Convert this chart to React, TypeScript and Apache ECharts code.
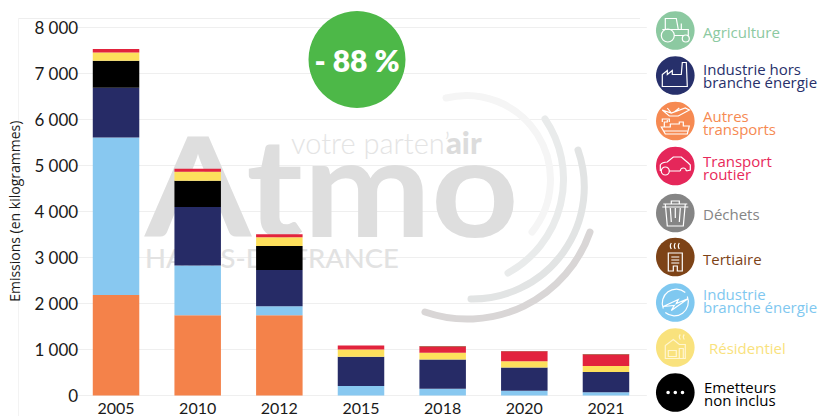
import React, { useEffect, useRef } from "react";
import * as echarts from "echarts";

const years = ["2005", "2010", "2012", "2015", "2018", "2020", "2021"];
const autresTransports = [2180, 1740, 1740, 0, 0, 0, 0];
const industrieEnergie = [3420, 1080, 200, 205, 147, 104, 70];
const industrieHors = [1080, 1270, 785, 635, 636, 505, 440];
const emetteurs = [590, 570, 520, 0, 0, 0, 0];
const residentiel = [175, 195, 190, 160, 143, 136, 130];
const transportRoutier = [75, 65, 65, 87, 140, 215, 252];
const tertiaire = [0, 0, 0, 0, 8, 8, 8];

const barNames = ["Autres transports", "Industrie branche énergie", "Industrie hors branche énergie", "Emetteurs non inclus", "Résidentiel", "Transport routier", "Tertiaire"];
const barValues = [autresTransports, industrieEnergie, industrieHors, emetteurs, residentiel, transportRoutier, tertiaire];
const barColors = ["#f4824a", "#88c8f0", "#262b66", "#000000", "#fde05c", "#e2233d", "#7d4317"];

const legendLabels = ["Agriculture", "Industrie hors\nbranche énergie", "Autres\ntransports", "Transport\nroutier", "Déchets", "Tertiaire", "Industrie\nbranche énergie", "Résidentiel", "Emetteurs\nnon inclus"];
const legendColors = ["#8cc9a1", "#27306b", "#f68a52", "#e5275a", "#858585", "#7d4317", "#7fc8f0", "#f9e27d", "#000000"];
const legendTextColors = ["#8cc9a1", "#27306b", "#f68a52", "#e8295a", "#858585", "#7d4317", "#7fc8f0", "#f9e27d", "#000000"];
const iconShapes = ["iTractor", "iFactory", "iTransport", "iCar", "iBin", "iBuilding", "iBolt", "iHouse", "iDots"];

const iconPaths: Record<string, string> = {
  iTractor: "M-10 -1 L-10 -12 L1 -12 L3 -1 M-13 -1 L13 -1 L13 6 M6 -1 L6 -7 M-9 -1 M-1 5 L8 5 M-1 5 A6.5 6.5 0 1 0 -14 5 A6.5 6.5 0 1 0 -1 5 M14 8 A3.5 3.5 0 1 0 7 8 A3.5 3.5 0 1 0 14 8",
  iFactory: "M-13 11 L-13 -1 L-8 -5 L-8 -1 L-3 -5 L-3 -1 L6 -1 L7 -13 L11 -13 L12 11 Z",
  iTransport: "M-13 -11 L-4 -8 L10 -13 L14 -11 L3 -5 L-6 -5 Z M-8 -13 L-4 -8 M-1 -9 L4 -13 M-11 6 L-11 1 L-8 1 L-8 -1 M-13 1 L-13 -2 L-6 -2 L-6 1 M-8 6 L-5 6 L-5 3 L4 3 L4 1 L8 1 L8 5 L14 5 L12 13 L-10 13 L-14 6 Z M-12 10 L12 10",
  iCar: "M-15 5 L-15 -1 Q-13 -4 -8 -4 L-2 -9 L6 -9 L13 -3 L15 -1 L15 4 L11 5 M5 5 L-6 5 M-6 5 A4 4 0 1 1 -14 5 A4 4 0 1 1 -6 5 M11 5 A3 3 0 1 0 5 5",
  iBin: "M-12 -9 L12 -9 M-4 -9 L-4 -12 L4 -12 L4 -9 M-10 -9 L-8 13 L8 13 L10 -9 M-5 -5 L-4 9 M0 -5 L0 5 M5 -5 L4 9 M-13 -6 L13 -6",
  iBuilding: "M-7 -4 L7 -4 L7 14 L2 14 L2 9 L-2 9 L-2 14 L-7 14 Z M-4 0 L4 0 M-4 3 L4 3 M-4 6 L4 6 M-4 -8 Q-6 -11 -4 -14 M0 -8 Q-2 -11 0 -14 M4 -8 Q2 -11 4 -14",
  iBolt: "M-12 6 A14 14 0 0 1 10 -10 M12 -6 A14 14 0 0 1 -10 10 M-12 4 L3 -3 L1 1 L13 -4 L-4 8 L-1 3 Z",
  iHouse: "M-10 11 L-10 -2 L-2 -8 L4 -3 L10 -3 L10 11 Z M-7 3 L1 3 L1 9 L-7 9 Z M4 11 L4 1 L8 1 L8 11 M5 -8 Q3 -11 5 -13 M9 -8 Q7 -11 9 -13",
  iDots: "M-9 0 A1.8 1.8 0 1 0 -5.4 0 A1.8 1.8 0 1 0 -9 0 M-1.8 0 A1.8 1.8 0 1 0 1.8 0 A1.8 1.8 0 1 0 -1.8 0 M5.4 0 A1.8 1.8 0 1 0 9 0 A1.8 1.8 0 1 0 5.4 0",
};
Object.keys(iconPaths).forEach((k) => {
  echarts.graphic.registerShape(k, echarts.graphic.extendPath(iconPaths[k], {}) as any);
});
const arcPaths: Record<string, string> = {
  arcA: "M446 98 A84 84 0 0 1 532 232",
  arcB: "M545 119 A107 107 0 0 1 508 273",
  arcC: "M578 150 A112 112 0 0 1 471 299",
  arcD: "M590 232 A130 130 0 0 1 425 312",
};
Object.keys(arcPaths).forEach((k) => {
  echarts.graphic.registerShape(k, echarts.graphic.extendPath(arcPaths[k], {}) as any);
});

const iconY = [30.5, 75.5, 121, 166, 213, 257, 302.5, 347.5, 392.5];
const labelY = [31.5, 75.5, 122.5, 167.5, 214, 258.5, 300.5, 348, 393.5];
const labelX = [703, 703, 703, 703, 703, 703, 703, 709, 704];

export default function App() {
  const ref = useRef<HTMLDivElement>(null);
  useEffect(() => {
    const chart = echarts.init(ref.current!, undefined, { renderer: "svg" });
    const wm = "#dedede";
    const graphic: any[] = [
      { type: "line", z: 0, shape: { x1: 18, y1: 18.5, x2: 640, y2: 18.5 }, style: { stroke: "#eeeeee", lineWidth: 1 } },
      { type: "line", z: 0, shape: { x1: 18.5, y1: 18, x2: 18.5, y2: 416 }, style: { stroke: "#f3f3f3", lineWidth: 1 } },
      { type: "text", z: 1, x: 145, y: 184, scaleX: 1.115, style: { text: "Atmo", fill: wm, font: "700 137px Lato", textVerticalAlign: "middle" } },
      { type: "text", z: 1, x: 291, y: 142, style: { text: "votre parten’", fill: "#e4e4e4", font: "300 29px Lato", textVerticalAlign: "middle" } },
      { type: "text", z: 1, x: 446, y: 142, style: { text: "air", fill: "#dcdcdc", font: "900 31px Lato", textVerticalAlign: "middle" } },
      { type: "text", z: 1, x: 145, y: 258, scaleX: 1.015, style: { text: "HAUTS-DE-FRANCE", fill: "#e2e2e2", font: "500 27px Lato", textVerticalAlign: "middle" } },
      { type: "arcA", z: 1, style: { fill: "none", stroke: "#f5f5f5", lineWidth: 7, lineCap: "round" } },
      { type: "arcB", z: 1, style: { fill: "none", stroke: "#e9ebeb", lineWidth: 7, lineCap: "round" } },
      { type: "arcC", z: 1, style: { fill: "none", stroke: "#e2e4e4", lineWidth: 7, lineCap: "round" } },
      { type: "arcD", z: 1, style: { fill: "none", stroke: "#d9d6d6", lineWidth: 7, lineCap: "round" } },
      { type: "circle", z: 5, shape: { cx: 357, cy: 59.5, r: 48.5 }, style: { fill: "#4db848" } },
      { type: "text", z: 6, x: 357, y: 60, style: { text: "- 88 %", fill: "#ffffff", font: "800 30px Lato", textAlign: "center", textVerticalAlign: "middle" } },
    ];
    legendLabels.forEach((label, i) => {
      graphic.push({ type: "circle", z: 5, shape: { cx: 675.3, cy: iconY[i], r: 19.3 }, style: { fill: legendColors[i] } });
      graphic.push({
        type: iconShapes[i], z: 6, x: 675.3, y: iconY[i],
        style: i === 8 ? { fill: "#ffffff", stroke: "none" } : { fill: "none", stroke: i === 7 ? "#fff6d0" : "#ffffff", lineWidth: 1.2 },
      });
      graphic.push({
        type: "text", z: 6, x: labelX[i], y: labelY[i],
        style: { text: label, fill: legendTextColors[i], font: "15px 'Open Sans'", lineHeight: 13, textVerticalAlign: "middle" },
      });
    });
    chart.setOption({
      animation: false,
      grid: { left: 75.2, right: 172.2, top: 27, bottom: 20.5, outerBoundsMode: "none" },
      graphic,
      xAxis: {
        type: "category",
        data: years,
        axisLine: { show: false },
        axisTick: { show: false },
        axisLabel: { color: "#1a1a1a", fontFamily: "Lato", fontSize: 16, margin: 4 },
      },
      yAxis: {
        type: "value",
        min: 0,
        max: 8000,
        interval: 1000,
        name: "Emissions (en kilogrammes)",
        nameLocation: "middle",
        nameGap: 54,
        nameTextStyle: { color: "#1a1a1a", fontFamily: "'Open Sans'", fontSize: 14 },
        axisLine: { show: false },
        axisTick: { show: false },
        splitLine: { lineStyle: { color: "#efefef", width: 1 } },
        axisLabel: {
          color: "#1a1a1a",
          fontFamily: "Lato",
          fontSize: 17,
          margin: -3,
          formatter: (v: number) => (v >= 1000 ? `${Math.floor(v / 1000)} 000` : `${v}`),
        },
      },
      series: barNames.map((name, i) => ({
        name,
        type: "bar",
        stack: "total",
        barWidth: 46.5,
        z: 3,
        itemStyle: { color: barColors[i] },
        data: barValues[i],
      })),
    });
    return () => chart.dispose();
  }, []);
  return <div ref={ref} style={{ position: "absolute", left: 0, top: 0, width: 819, height: 416 }} />;
}
